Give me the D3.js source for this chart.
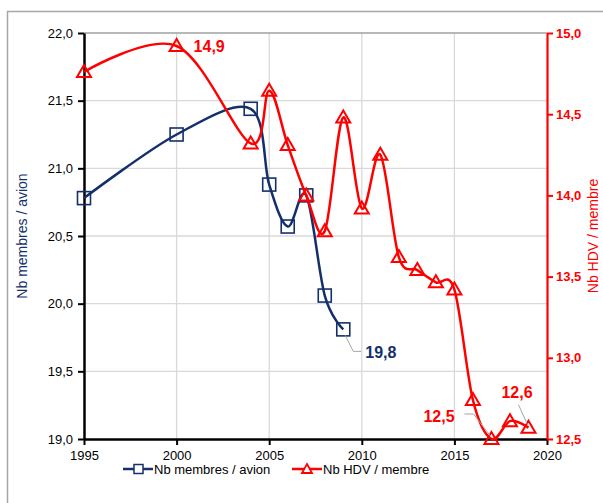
<!DOCTYPE html>
<html><head><meta charset="utf-8">
<script src="https://cdn.jsdelivr.net/npm/d3@7"></script>
<style>body{margin:0;background:#fff}svg{display:block;font-family:"Liberation Sans",Arial,sans-serif}</style>
</head><body><svg id="c" width="603" height="503"></svg>
<script>
const yearsA = [1995, 2000, 2004, 2005, 2006, 2007, 2008, 2009];
const membresAvion = [20.78, 21.25, 21.44, 20.88, 20.57, 20.80, 20.06, 19.81];
const yearsB = [1995, 2000, 2004, 2005, 2006, 2007, 2008, 2009, 2010, 2011, 2012, 2013, 2014, 2015, 2016, 2017, 2018, 2019];
const hdvMembre = [14.76, 14.92, 14.32, 14.645, 14.31, 14.0, 13.78, 14.48, 13.92, 14.25, 13.62, 13.54, 13.465, 13.42, 12.74, 12.5, 12.61, 12.57];
const xTicks = [1995, 2000, 2005, 2010, 2015, 2020];
const leftTicks = [19.0, 19.5, 20.0, 20.5, 21.0, 21.5, 22.0];
const rightTicks = [12.5, 13.0, 13.5, 14.0, 14.5, 15.0];
const seriesNames = ["Nb membres / avion", "Nb HDV / membre"];
const axisTitles = ["Nb membres / avion", "Nb HDV / membre"];

const NAVY = "#14306b", RED = "#ff0000";
const svg = d3.select("#c");
const L = 84, R = 547, T = 33, B = 439;
const x = d3.scaleLinear().domain([1995, 2020]).range([L, R]);
const yL = d3.scaleLinear().domain([19, 22]).range([B, T]);
const yR = d3.scaleLinear().domain([12.5, 15]).range([B, T]);
const fmt = d => d.toFixed(1).replace(".", ",");

// outer frame
svg.append("path").attr("d", "M7.5,503 V11.5 H603").attr("fill", "none").attr("stroke", "#a6a6a6").attr("stroke-width", 1.5);

// grid
const g = svg.append("g");
g.selectAll(".vg").data(xTicks.slice(1, -1)).join("line")
  .attr("x1", d => x(d)).attr("x2", d => x(d)).attr("y1", T).attr("y2", B)
  .attr("stroke", "#d9d9d9").attr("stroke-width", 1.3);
g.selectAll(".hg").data(leftTicks.slice(1, -1)).join("line")
  .attr("x1", L).attr("x2", R).attr("y1", d => yL(d)).attr("y2", d => yL(d))
  .attr("stroke", "#d9d9d9").attr("stroke-width", 1.3);
g.append("line").attr("x1", L).attr("x2", R).attr("y1", T).attr("y2", T).attr("stroke", "#a0a0a0").attr("stroke-width", 1.3);

// axes
const ax = svg.append("g").attr("transform", `translate(0,${B})`)
  .call(d3.axisBottom(x).tickValues(xTicks).tickFormat(d3.format("d")).tickSize(6).tickSizeOuter(0));
ax.select(".domain").attr("stroke", "#000").attr("stroke-width", 2.5);
ax.selectAll(".tick line").attr("stroke", "#000").attr("stroke-width", 2);
ax.selectAll(".tick text").attr("font-size", 13).attr("fill", "#000").attr("dy", "0.95em").attr("font-family", "Liberation Sans, Arial");

const al = svg.append("g").attr("transform", `translate(${L},0)`)
  .call(d3.axisLeft(yL).tickValues(leftTicks).tickFormat(fmt).tickSize(6).tickSizeOuter(0));
al.select(".domain").attr("stroke", "#000").attr("stroke-width", 2.5);
al.selectAll(".tick line").attr("stroke", "#000").attr("stroke-width", 2);
al.selectAll(".tick text").attr("font-size", 13).attr("fill", "#000").attr("x", -11).attr("font-family", "Liberation Sans, Arial");

const ar = svg.append("g").attr("transform", `translate(${R},0)`)
  .call(d3.axisRight(yR).tickValues(rightTicks).tickFormat(fmt).tickSize(6).tickSizeOuter(0));
ar.select(".domain").attr("stroke", RED).attr("stroke-width", 2.2);
ar.selectAll(".tick line").attr("stroke", RED).attr("stroke-width", 2);
ar.selectAll(".tick text").attr("font-size", 13).attr("font-weight", "bold").attr("fill", RED).attr("x", 9).attr("font-family", "Liberation Sans, Arial");

// axis titles
svg.append("text").attr("transform", `translate(27,${(T + B) / 2}) rotate(-90)`).attr("text-anchor", "middle")
  .attr("font-size", 14).attr("fill", NAVY).text(axisTitles[0]);
svg.append("text").attr("transform", `translate(598,${(T + B) / 2}) rotate(-90)`).attr("text-anchor", "middle")
  .attr("font-size", 14).attr("fill", RED).text(axisTitles[1]);

const curve = d3.curveCardinal.tension(0);
const dA = yearsA.map((y, i) => [y, membresAvion[i]]);
const dB = yearsB.map((y, i) => [y, hdvMembre[i]]);

// Series 1 (navy)
svg.append("path").datum(dA).attr("fill", "none").attr("stroke", NAVY).attr("stroke-width", 2.5)
  .attr("d", d3.line().x(d => x(d[0])).y(d => yL(d[1])).curve(curve));
svg.selectAll(".sq").data(dA).join("rect")
  .attr("x", d => x(d[0]) - 6.5).attr("y", d => yL(d[1]) - 6.5).attr("width", 13).attr("height", 13)
  .attr("fill", "none").attr("stroke", NAVY).attr("stroke-width", 1.6);

// Series 2 (red)
svg.append("path").datum(dB).attr("fill", "none").attr("stroke", RED).attr("stroke-width", 2.5)
  .attr("d", d3.line().x(d => x(d[0])).y(d => yR(d[1])).curve(curve));
const tri = "M0,-7 L7,5 L-7,5 Z";
svg.selectAll(".tr").data(dB).join("path")
  .attr("transform", d => `translate(${x(d[0])},${yR(d[1])})`).attr("d", tri)
  .attr("fill", "#fff").attr("fill-opacity", 0).attr("stroke", RED).attr("stroke-width", 2);

// data labels
const lab = (tx, ty, txt, col) => svg.append("text").attr("x", tx).attr("y", ty).attr("font-size", 16)
  .attr("font-weight", "bold").attr("fill", col).text(txt);
const iA9 = yearsA.indexOf(2009);
const iB00 = yearsB.indexOf(2000), iB17 = yearsB.indexOf(2017), iB19 = yearsB.indexOf(2019);
lab(x(yearsB[iB00]) + 17, yR(hdvMembre[iB00]) + 6, fmt(hdvMembre[iB00]), RED);
// 19,8 with leader
const p9 = [x(yearsA[iA9]), yL(membresAvion[iA9])];
svg.append("polyline").attr("points", `${p9[0] + 2},${p9[1] + 6} ${p9[0] + 10},${p9[1] + 22} ${p9[0] + 18},${p9[1] + 22}`)
  .attr("fill", "none").attr("stroke", "#a6a6a6").attr("stroke-width", 1);
lab(p9[0] + 22, p9[1] + 29, fmt(membresAvion[iA9]), NAVY);
// 12,5 with leader
const p17 = [x(yearsB[iB17]), yR(hdvMembre[iB17])];
svg.append("polyline").attr("points", `${p17[0] - 27},${p17[1] - 25} ${p17[0] - 18},${p17[1] - 25} ${p17[0] - 1},${p17[1] - 3}`)
  .attr("fill", "none").attr("stroke", "#a6a6a6").attr("stroke-width", 1);
lab(p17[0] - 68, p17[1] - 17, fmt(hdvMembre[iB17]), RED);
// 12,6 with leader
const p19 = [x(yearsB[iB19]), yR(hdvMembre[iB19])];
svg.append("line").attr("x1", p19[0] - 10).attr("y1", p19[1] - 23).attr("x2", p19[0] - 1).attr("y2", p19[1] - 3)
  .attr("stroke", "#a6a6a6").attr("stroke-width", 1);
lab(p19[0] - 27, p19[1] - 30, fmt(hdvMembre[iB19]), RED);

// legend
const lg = svg.append("g");
const leg = [{n: seriesNames[0], c: NAVY, x0: 123, t: "sq"}, {n: seriesNames[1], c: RED, x0: 292, t: "tr"}];
leg.forEach(l => {
  const ly = 469;
  lg.append("line").attr("x1", l.x0).attr("x2", l.x0 + 30).attr("y1", ly).attr("y2", ly).attr("stroke", l.c).attr("stroke-width", 2.5);
  if (l.t === "sq") lg.append("rect").attr("x", l.x0 + 11).attr("y", ly - 4.5).attr("width", 9).attr("height", 9).attr("fill", "#fff").attr("stroke", l.c).attr("stroke-width", 1.5);
  else lg.append("path").attr("d", "M0,-5 L5,4 L-5,4 Z").attr("transform", `translate(${l.x0 + 15},${ly})`).attr("fill", "#fff").attr("stroke", l.c).attr("stroke-width", 1.8);
  lg.append("text").attr("x", l.x0 + 31).attr("y", ly + 5).attr("font-size", 13).attr("fill", "#000").text(l.n);
});
</script></body></html>
